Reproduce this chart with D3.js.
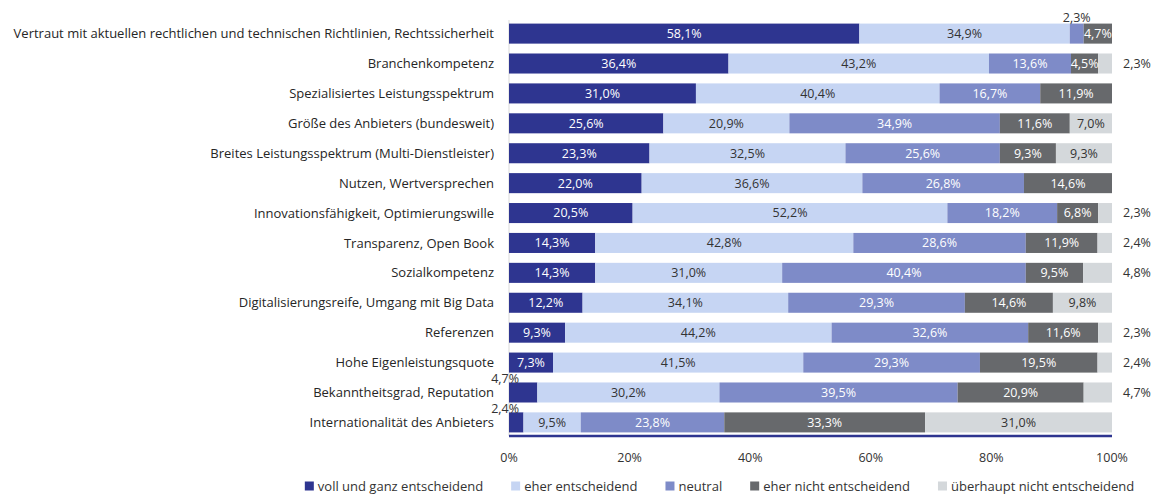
<!DOCTYPE html>
<html>
<head>
<meta charset="utf-8">
<script src="https://cdn.jsdelivr.net/npm/d3@7/dist/d3.min.js"></script>
<style>
	body { margin: 0; background: #fff; }
	svg text { font-family: "Open Sans", "Noto Sans", sans-serif; }
</style>
</head>
<body>
<div id="chart"></div>
<script>
var categories = [
	"Vertraut mit aktuellen rechtlichen und technischen Richtlinien, Rechtssicherheit",
	"Branchenkompetenz",
	"Spezialisiertes Leistungsspektrum",
	"Größe des Anbieters (bundesweit)",
	"Breites Leistungsspektrum (Multi-Dienstleister)",
	"Nutzen, Wertversprechen",
	"Innovationsfähigkeit, Optimierungswille",
	"Transparenz, Open Book",
	"Sozialkompetenz",
	"Digitalisierungsreife, Umgang mit Big Data",
	"Referenzen",
	"Hohe Eigenleistungsquote",
	"Bekanntheitsgrad, Reputation",
	"Internationalität des Anbieters"
];

var seriesNames = ["voll und ganz entscheidend", "eher entscheidend", "neutral", "eher nicht entscheidend", "überhaupt nicht entscheidend"];

var vollUndGanz   = [58.1, 36.4, 31.0, 25.6, 23.3, 22.0, 20.5, 14.3, 14.3, 12.2, 9.3, 7.3, 4.7, 2.4];
var eher          = [34.9, 43.2, 40.4, 20.9, 32.5, 36.6, 52.2, 42.8, 31.0, 34.1, 44.2, 41.5, 30.2, 9.5];
var neutral       = [2.3, 13.6, 16.7, 34.9, 25.6, 26.8, 18.2, 28.6, 40.4, 29.3, 32.6, 29.3, 39.5, 23.8];
var eherNicht     = [4.7, 4.5, 11.9, 11.6, 9.3, 14.6, 6.8, 11.9, 9.5, 14.6, 11.6, 19.5, 20.9, 33.3];
var ueberhauptNicht = [0, 2.3, 0, 7.0, 9.3, 0, 2.3, 2.4, 4.8, 9.8, 2.3, 2.4, 4.7, 31.0];

var xTicks = [0, 20, 40, 60, 80, 100];

var colors = ["#2e3590", "#c6d5f3", "#7e8bc8", "#67696c", "#d4d8db"];
var labelColors = ["#ffffff", "#333333", "#ffffff", "#ffffff", "#333333"];

var W = 1159, H = 495;
var margin = { left: 509, right: 47, top: 20, bottom: 60 };

var svg = d3.select("#chart").append("svg").attr("width", W).attr("height", H);

var x = d3.scaleLinear().domain([0, 100]).range([margin.left, W - margin.right]);
var y = d3.scaleBand().domain(categories).range([20, 436]).paddingInner(0.33).paddingOuter(0.12);

var table = categories.map(function(c, i) {
	return { cat: c, voll: vollUndGanz[i], eher: eher[i], neutral: neutral[i], nicht: eherNicht[i], ueber: ueberhauptNicht[i] };
});
var keys = ["voll", "eher", "neutral", "nicht", "ueber"];
var stacked = d3.stack().keys(keys)(table);

var fmt = function(v) { return v.toFixed(1).replace(".", ",") + "%"; };

// y axis line
svg.append("line")
	.attr("x1", x(0)).attr("x2", x(0))
	.attr("y1", 20).attr("y2", 436)
	.attr("stroke", "#d9d9d9").attr("stroke-width", 1);

// bars
var layers = svg.selectAll("g.layer").data(stacked).enter().append("g").attr("class", "layer")
	.attr("fill", function(d, i) { return colors[i]; });

layers.selectAll("rect").data(function(d) { return d; }).enter().append("rect")
	.attr("x", function(d) { return x(d[0]); })
	.attr("y", function(d) { return y(d.data.cat); })
	.attr("width", function(d) { return Math.max(0, x(d[1]) - x(d[0])); })
	.attr("height", y.bandwidth());

// segment labels
stacked.forEach(function(layer, si) {
	layer.forEach(function(d) {
		var v = d[1] - d[0];
		if (v <= 0) return;
		var cy = y(d.data.cat) + y.bandwidth() / 2;
		var t = svg.append("text").text(fmt(v)).style("font-size", "12.5px");
		if (si == 4 && v < 5) {
			t.attr("x", x(100) + 11).attr("y", cy).attr("dy", "0.35em").attr("fill", "#333");
		} else if (si == 0 && v < 5) {
			t.attr("x", x(0) + 10).attr("y", y(d.data.cat) + 1).attr("text-anchor", "end").attr("fill", "#333");
		} else if (v < 3) {
			t.attr("x", x((d[0] + d[1]) / 2)).attr("y", y(d.data.cat) - 2).attr("text-anchor", "middle").attr("fill", "#333");
		} else {
			t.attr("x", x((d[0] + d[1]) / 2)).attr("y", cy).attr("dy", "0.35em")
				.attr("text-anchor", "middle").attr("fill", labelColors[si]);
		}
	});
});

// category labels
svg.selectAll("text.cat").data(categories).enter().append("text").attr("class", "cat")
	.attr("x", x(0) - 15)
	.attr("y", function(d) { return y(d) + y.bandwidth() / 2; })
	.attr("dy", "0.35em")
	.attr("text-anchor", "end")
	.attr("fill", "#262626")
	.style("font-size", "13px")
	.text(function(d) { return d; });

// bottom axis
svg.append("line")
	.attr("x1", x(0)).attr("x2", x(100))
	.attr("y1", 436).attr("y2", 436)
	.attr("stroke", "#2e3590").attr("stroke-width", 2.5);

svg.selectAll("text.tick").data(xTicks).enter().append("text").attr("class", "tick")
	.attr("x", function(d) { return x(d); })
	.attr("y", 458).attr("dy", "0.35em")
	.attr("text-anchor", "middle")
	.attr("fill", "#333")
	.style("font-size", "12.5px")
	.text(function(d) { return d + "%"; });

// legend
var legend = svg.append("g");
var lx = 0;
seriesNames.forEach(function(name, i) {
	var g = legend.append("g").attr("transform", "translate(" + lx + ",0)");
	g.append("rect").attr("x", 0).attr("y", -4.5).attr("width", 9).attr("height", 9).attr("fill", colors[i]);
	var t = g.append("text").attr("x", 13).attr("y", 0).attr("dy", "0.35em")
		.attr("fill", "#333").style("font-size", "13px").text(name);
	lx += 13 + t.node().getComputedTextLength() + 28;
});
var lw = lx - 28;
legend.attr("transform", "translate(" + ((304 + 1135) / 2 - lw / 2) + ",486)");
</script>
</body>
</html>
